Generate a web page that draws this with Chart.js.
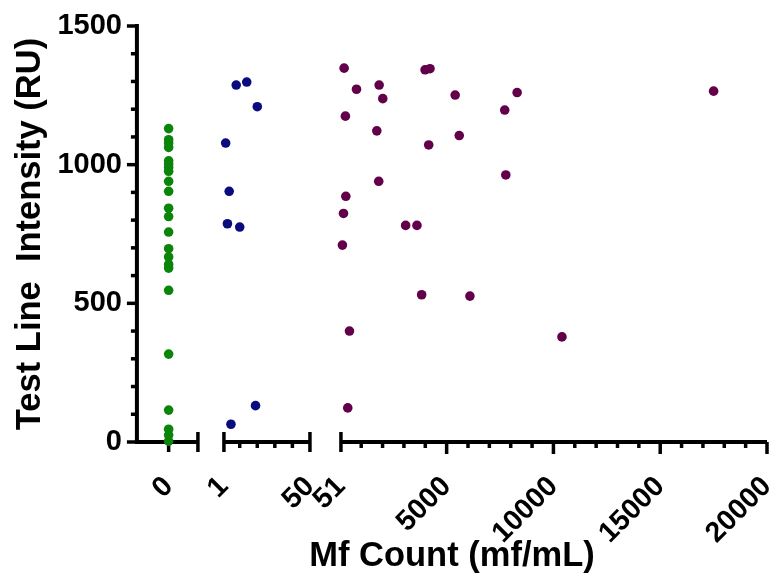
<!DOCTYPE html>
<html>
<head>
<meta charset="utf-8">
<script src="https://cdn.jsdelivr.net/npm/chart.js"></script>
<style>
  html, body { margin: 0; padding: 0; background: #fff; }
</style>
</head>
<body>
<canvas id="chart" width="778" height="577"></canvas>
<script>
// values
// group with Mf count 0 (all at x = 0)
const noMfY = [1130, 1090, 1078, 1062, 1014, 1002, 990, 976, 940, 904, 843, 813, 757, 697, 667, 640, 627, 547, 317, 115, 46, 25, 3];

// group with 1-50 mf/mL
const lowMfX = [8, 14, 20, 2, 4, 3, 10, 19, 5];
const lowMfY = [1287, 1298, 1209, 1078, 904, 787, 775, 131, 64];

// group with > 50 mf/mL
const highMfX = [200, 780, 1840, 2010, 3990, 4220, 5400, 8300, 7720, 17500, 260, 1730, 5590, 4160, 7770, 1820, 280, 170, 3080, 3610, 120, 3830, 6090, 10400, 450, 370];
const highMfY = [1348, 1272, 1287, 1238, 1342, 1346, 1251, 1260, 1197, 1265, 1175, 1122, 1105, 1071, 963, 940, 886, 824, 781, 781, 710, 531, 526, 379, 400, 123];

// axis ticks
const seg1Ticks = [0];
const seg1Labels = [0];
const seg2Ticks = [1, 10, 20, 30, 40, 50];
const seg2Labels = [1, 50];
const seg3Ticks = [51];
for (let v = 1000; v <= 20000; v += 1000) seg3Ticks.push(v);
const seg3Labels = [51, 5000, 10000, 15000, 20000];
const yLabels = [0, 500, 1000, 1500];

const FAMILY = "'Liberation Sans', Arial, Helvetica, sans-serif";
const yTickFont = { family: FAMILY, size: 29, weight: 'bold' };
const xTickFont = { family: FAMILY, size: 28.5, weight: 'bold' };
const titleFont = { family: FAMILY, size: 34.5, weight: 'bold' };

// heights of the band holding the rotated x labels and of the x title band
const X_BAND = 110;
const X_TITLE_BAND = 25;

// one piece of the broken x axis
function segScale(min, max, ticks, labels, weight) {
  return {
    type: 'linear', position: 'bottom', stack: 'mf', stackWeight: weight,
    min: min, max: max,
    grid: { display: true, drawOnChartArea: false, drawTicks: true, tickLength: 10, tickColor: 'rgba(0,0,0,0)' },
    border: { display: false },
    ticks: {
      autoSkip: false, minRotation: 45, maxRotation: 45, padding: 18,
      color: '#000', font: xTickFont,
      callback: v => labels.includes(v) ? String(v) : ''
    },
    afterBuildTicks: s => { s.ticks = ticks.map(v => ({ value: v })); },
    afterFit: s => { s.paddingLeft = 0; s.paddingRight = 0; s.height = X_BAND; }
  };
}
// empty space between pieces
function gapScale(weight) {
  return {
    type: 'linear', position: 'bottom', stack: 'mf', stackWeight: weight, display: false,
    afterFit: s => { s.height = X_BAND; }
  };
}

const segments = [
  { id: 'x1', ticks: seg1Ticks, labels: seg1Labels, open: false, close: true },
  { id: 'x2', ticks: seg2Ticks, labels: seg2Labels, open: true, close: true },
  { id: 'x3', ticks: seg3Ticks, labels: seg3Labels, open: true, close: false }
];

// Prism-like axes drawn with the chart's own scales
const prismAxes = {
  id: 'prismAxes',
  beforeDatasetsDraw(chart) {
    const ctx = chart.ctx;
    const ys = chart.scales.y;
    const area = chart.chartArea;
    const base = ys.getPixelForValue(0);
    const line = (x1, y1, x2, y2, w) => {
      ctx.lineWidth = w;
      ctx.beginPath(); ctx.moveTo(x1, y1); ctx.lineTo(x2, y2); ctx.stroke();
    };
    ctx.save();
    ctx.strokeStyle = '#000';
    ctx.lineCap = 'butt';

    // y axis
    line(area.left, ys.getPixelForValue(1500) - 2, area.left, base + 2, 4);
    ys.ticks.forEach(t => {
      const py = ys.getPixelForValue(t.value);
      const major = yLabels.includes(t.value);
      line(area.left, py, area.left - (major ? 10 : 6), py, 3.5);
    });

    // x axis pieces
    segments.forEach((seg, i) => {
      const s = chart.scales[seg.id];
      const xa = i === 0 ? area.left - 2 : s.getPixelForValue(s.min);
      const xb = s.getPixelForValue(s.max);
      line(xa, base, xb, base, 4);
      seg.ticks.forEach((v, k) => {
        const px = s.getPixelForValue(v);
        const isOpen = seg.open && k === 0;
        const isClose = seg.close && k === seg.ticks.length - 1;
        if (isOpen || isClose) {
          line(px, base - 10, px, base + 10, 3.5);
        } else {
          line(px, base, px, base + (seg.labels.includes(v) ? 12 : 6), 3.5);
        }
      });
      if (seg.close && !seg.ticks.includes(s.max)) {
        line(xb, base - 10, xb, base + 10, 3.5);
      }
    });
    ctx.restore();
  }
};

const pointStyle = { pointRadius: 4.8, pointHoverRadius: 4.8, borderWidth: 0, showLine: false, clip: false };

new Chart(document.getElementById('chart'), {
  type: 'scatter',
  data: {
    datasets: [
      Object.assign({
        label: '0 mf/mL', xAxisID: 'x1', yAxisID: 'y',
        data: noMfY.map(v => ({ x: 0, y: v })),
        backgroundColor: '#0a850a'
      }, pointStyle),
      Object.assign({
        label: '1-50 mf/mL', xAxisID: 'x2', yAxisID: 'y',
        data: lowMfX.map((x, i) => ({ x: x, y: lowMfY[i] })),
        backgroundColor: '#0b0b80'
      }, pointStyle),
      Object.assign({
        label: '>50 mf/mL', xAxisID: 'x3', yAxisID: 'y',
        data: highMfX.map((x, i) => ({ x: x, y: highMfY[i] })),
        backgroundColor: '#62004a'
      }, pointStyle)
    ]
  },
  options: {
    responsive: false,
    animation: false,
    devicePixelRatio: 1,
    layout: { padding: { top: 26, right: 11, bottom: 0, left: 0 } },
    plugins: { legend: { display: false }, tooltip: { enabled: false } },
    scales: {
      x1: segScale(-0.52, 0.48, seg1Ticks, seg1Labels, 61),
      g1: gapScale(26),
      x2: segScale(1, 50, seg2Ticks, seg2Labels, 86),
      g2: gapScale(31),
      x3: segScale(51, 20000, seg3Ticks, seg3Labels, 426),
      xt: {
        type: 'linear', position: 'bottom', weight: 1, min: 0, max: 1,
        grid: { display: false, drawTicks: false },
        border: { display: false },
        ticks: { display: false },
        title: { display: true, text: 'Mf Count (mf/mL)', color: '#000', font: titleFont, padding: { top: 0, bottom: 0 } },
        afterFit: s => { s.height = X_TITLE_BAND; }
      },
      y: {
        type: 'linear', position: 'left', min: 0, max: 1500,
        grid: { display: true, drawOnChartArea: false, drawTicks: true, tickLength: 10, tickColor: 'rgba(0,0,0,0)' },
        border: { display: false },
        ticks: {
          stepSize: 100, autoSkip: false, padding: 5, color: '#000', font: yTickFont,
          callback: v => yLabels.includes(v) ? String(v) : ''
        },
        title: { display: true, text: 'Test Line  Intensity (RU)', color: '#000', font: titleFont, padding: { top: 10, bottom: 1 } }
      }
    }
  },
  plugins: [prismAxes]
});
</script>
</body>
</html>
